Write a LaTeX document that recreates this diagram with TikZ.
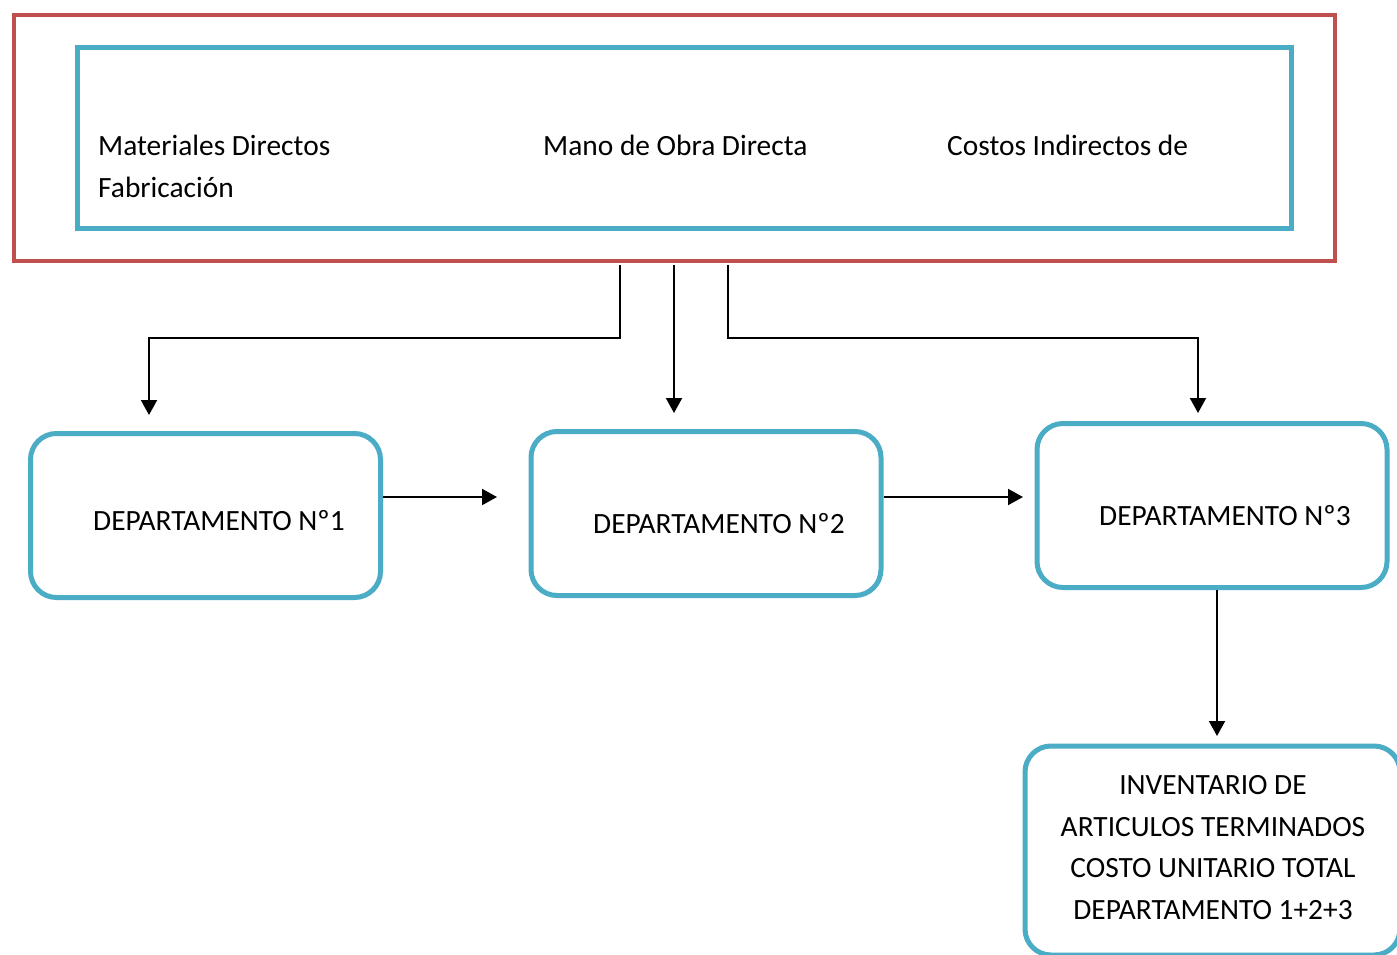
\documentclass[tikz,border=0pt]{standalone}
\usepackage{fontspec}
\setmainfont{Carlito}
\usetikzlibrary{arrows.meta}
\definecolor{framered}{HTML}{C0504D}
\definecolor{boxblue}{HTML}{4BACC6}
\tikzset{
  deptbox/.style={draw=boxblue, line width=5pt, rounded corners=26pt,
    minimum width=350pt, minimum height=164pt, inner sep=0pt},
  lbl/.style={font=\fontsize{29.4}{42}\selectfont, inner sep=0pt, anchor=base west},
  arr/.style={line width=2pt, -{Triangle[length=15pt,width=16pt]}},
}
\begin{document}
\begin{tikzpicture}[x=1pt,y=-1pt]
\useasboundingbox (0,0) rectangle (1397,955);
\fill[white] (0,0) rectangle (1397,955);

% cost elements frame
\node[draw=framered, line width=4.5pt, minimum width=1321pt, minimum height=246pt, inner sep=0pt] (outer) at (674.5,138) {};
\node[draw=boxblue, line width=5pt, minimum width=1214pt, minimum height=180pt, inner sep=0pt] (inner) at (684,138) {};
\node[lbl] (mat) at (98,155) {Materiales Directos};
\node[lbl] (fab) at (98,197) {Fabricación};
\node[lbl] (mob) at (543,155) {Mano de Obra Directa};
\node[lbl] (cif) at (947,155) {Costos Indirectos de};

% departments
\node[deptbox] (d1) at (205.5,515.5) {};
\node[deptbox] (d2) at (706,513.5) {};
\node[deptbox] (d3) at (1212,505.5) {};
\node[deptbox, minimum width=375pt, minimum height=209pt] (d4) at (1212.5,850.5) {};
\node[lbl] (l1) at (93,530) {DEPARTAMENTO Nº1};
\node[lbl] (l2) at (593,533) {DEPARTAMENTO Nº2};
\node[lbl] (l3) at (1099,525) {DEPARTAMENTO Nº3};
\node[font=\fontsize{29.4}{41.5}\selectfont, align=center, inner sep=0pt] (l4) at (1213,847.5)
  {INVENTARIO DE\\ARTICULOS TERMINADOS\\COSTO UNITARIO TOTAL\\DEPARTAMENTO 1+2+3};

% connector ends
\coordinate (s1) at (620,265);
\coordinate (s2) at (674,265);
\coordinate (s3) at (728,265);
\coordinate (t1) at (149,415);
\coordinate (t2) at (674,413);
\coordinate (t3) at (1198,413);
\coordinate (t4) at (497,497);
\coordinate (t5) at (1023,497);
\coordinate (t6) at (1217,736);

% flows
\draw[arr] (s1) -- ++(0,73) -| (t1);
\draw[arr] (s2) -- (t2);
\draw[arr] (s3) -- ++(0,73) -| (t3);
\draw[arr] (d1.east |- t4) -- (t4);
\draw[arr] (d2.east |- t5) -- (t5);
\draw[arr] (d3.south -| t6) -- (t6);
\end{tikzpicture}
\end{document}
